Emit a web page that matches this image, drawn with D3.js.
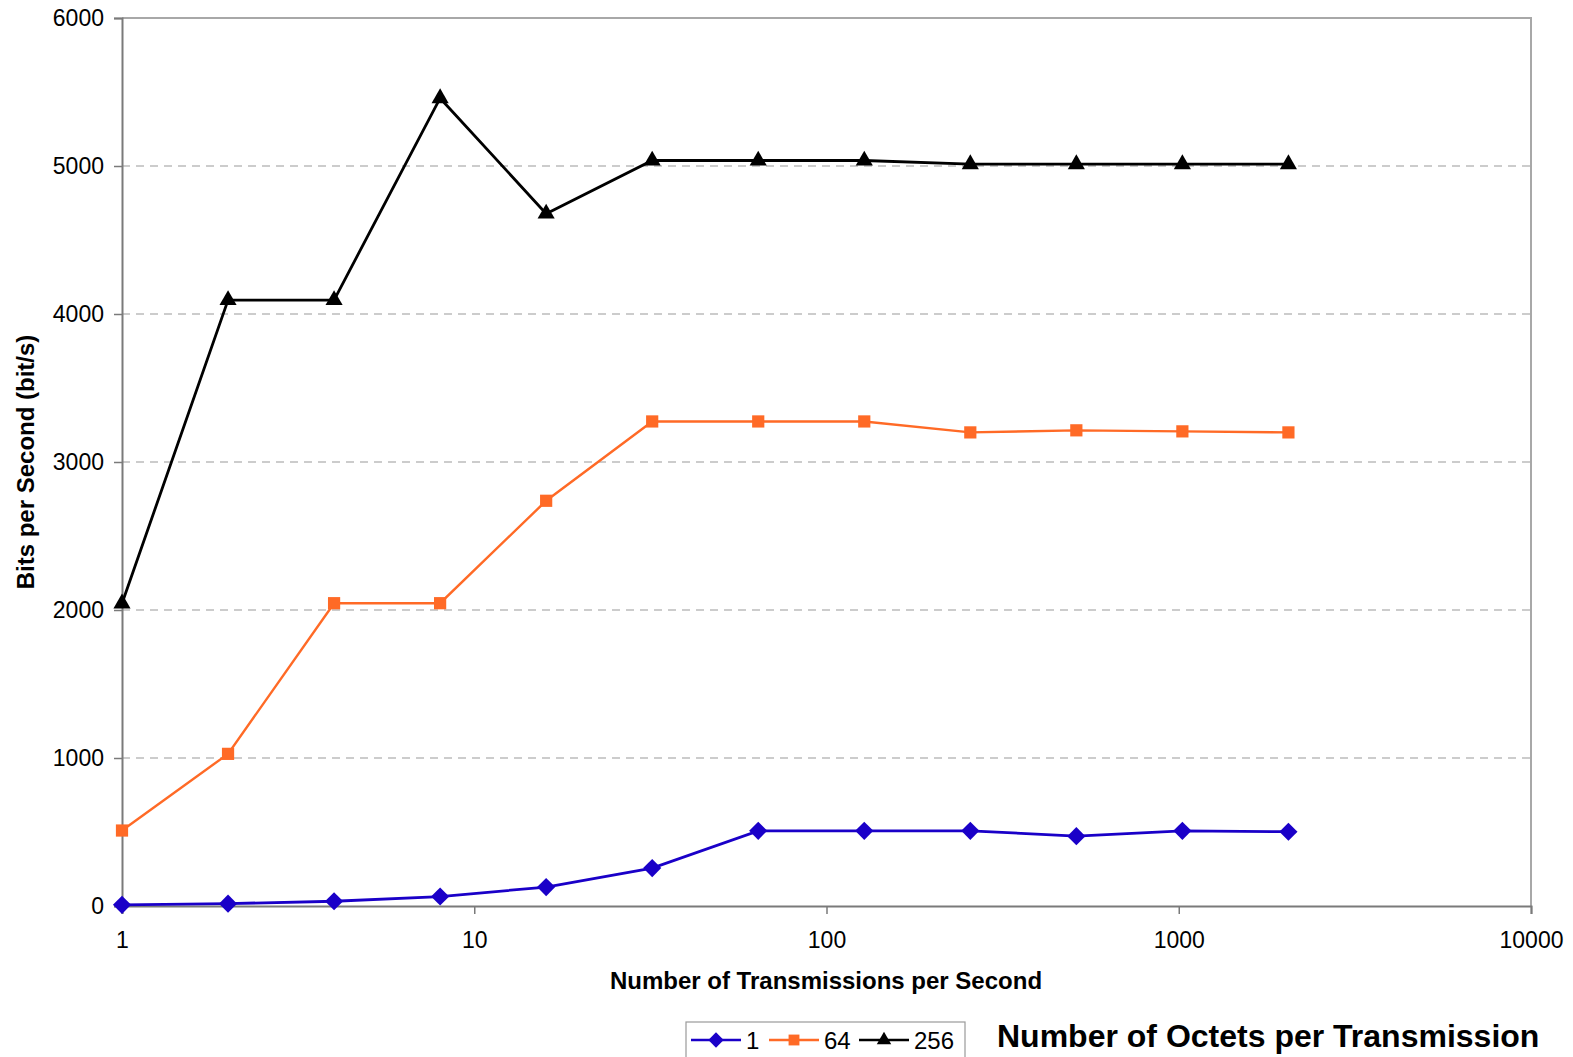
<!DOCTYPE html>
<html>
<head>
<meta charset="utf-8">
<script src="https://cdn.jsdelivr.net/npm/d3@7"></script>
<style>
  body { margin: 0; background: #fff; }
  text { font-family: "Liberation Sans", Arial, sans-serif; }
</style>
</head>
<body>
<div id="chart"></div>
<script>
const WIDTH = 1573;
const HEIGHT = 1057;

const MARGIN = { left: 122, right: 42, top: 18, bottom: 151 };

// transmissions per second (x)
const RATES = [1, 2, 4, 8, 16, 32, 64, 128, 256, 512, 1024, 2048];
// bits per second for each octet size
const SERIES_1 = [8, 16, 32, 64, 128, 256, 508, 508, 508, 472, 508, 502];
const SERIES_64 = [510, 1028, 2046, 2046, 2738, 3274, 3274, 3274, 3200, 3214, 3207, 3200];
const SERIES_256 = [2044, 4094, 4094, 5458, 4678, 5037, 5037, 5037, 5012, 5012, 5012, 5012];

const SERIES_NAMES = ['1', '64', '256'];
const X_TICKS = [1, 10, 100, 1000, 10000];
const Y_TICKS = [0, 1000, 2000, 3000, 4000, 5000, 6000];

const COLORS = ['#1a00c8', '#ff6a26', '#000000'];
const SHAPES = [d3.symbolDiamond2, d3.symbolSquare2, d3.symbolTriangle2];

const x = d3.scaleLog().domain([1, 10000]).range([MARGIN.left, WIDTH - MARGIN.right]);
const y = d3.scaleLinear().domain([0, 6000]).range([HEIGHT - MARGIN.bottom, MARGIN.top]);

const svg = d3.select('#chart').append('svg')
  .attr('width', WIDTH).attr('height', HEIGHT);

// grid lines
svg.append('g').selectAll('line')
  .data(Y_TICKS.filter(t => t > 0 && t < 6000))
  .enter().append('line')
  .attr('x1', x(1)).attr('x2', x(10000))
  .attr('y1', d => y(d)).attr('y2', d => y(d))
  .attr('stroke', '#9a9a9a').attr('stroke-width', 1.2)
  .attr('stroke-dasharray', '8,6');

// top and right frame
svg.append('path')
  .attr('d', `M${x(1)},${y(6000)}H${x(10000)}V${y(0)}`)
  .attr('fill', 'none').attr('stroke', '#a8a8a8').attr('stroke-width', 2);

// axes
const xAxis = svg.append('g')
  .attr('transform', `translate(0,${y(0)})`)
  .call(d3.axisBottom(x).tickValues(X_TICKS).tickFormat(d3.format('d')).tickSize(8).tickPadding(18));
const yAxis = svg.append('g')
  .attr('transform', `translate(${x(1)},0)`)
  .call(d3.axisLeft(y).tickValues(Y_TICKS).tickFormat(d3.format('d')).tickSize(8).tickPadding(10));

[xAxis, yAxis].forEach(ax => {
  ax.select('.domain').attr('stroke', '#7a7a7a').attr('stroke-width', 2);
  ax.selectAll('.tick line').attr('stroke', '#7a7a7a').attr('stroke-width', 1.5);
  ax.selectAll('.tick text').attr('font-size', 23).attr('fill', '#000');
});

// series
const allSeries = [SERIES_1, SERIES_64, SERIES_256];
const line = d3.line().x((d, i) => x(RATES[i])).y(d => y(d));

allSeries.forEach((vals, k) => {
  svg.append('path')
    .datum(vals)
    .attr('d', line)
    .attr('fill', 'none')
    .attr('stroke', COLORS[k])
    .attr('stroke-width', k === 1 ? 2.4 : 2.8);
  svg.append('g').selectAll('path')
    .data(vals)
    .enter().append('path')
    .attr('transform', (d, i) => `translate(${x(RATES[i])},${y(d)})`)
    .attr('d', d3.symbol().type(SHAPES[k]).size(k === 1 ? 190 : 210))
    .attr('fill', COLORS[k]);
});

// axis titles
svg.append('text')
  .attr('x', 826).attr('y', 989)
  .attr('text-anchor', 'middle')
  .attr('font-size', 24).attr('font-weight', 'bold')
  .text('Number of Transmissions per Second');

svg.append('text')
  .attr('transform', `translate(34,${(y(0) + y(6000)) / 2}) rotate(-90)`)
  .attr('text-anchor', 'middle')
  .attr('font-size', 24).attr('font-weight', 'bold')
  .text('Bits per Second (bit/s)');

// legend
const legend = svg.append('g').attr('transform', 'translate(686,1022)');
legend.append('rect')
  .attr('width', 279).attr('height', 50)
  .attr('fill', '#fff').attr('stroke', '#9a9a9a').attr('stroke-width', 1.2);

const LEGEND_X = [5, 83, 173];
SERIES_NAMES.forEach((name, k) => {
  const g = legend.append('g').attr('transform', `translate(${LEGEND_X[k]},18)`);
  g.append('line').attr('x1', 0).attr('x2', 50)
    .attr('stroke', COLORS[k]).attr('stroke-width', 2.6);
  g.append('path').attr('transform', 'translate(25,0)')
    .attr('d', d3.symbol().type(SHAPES[k]).size(150))
    .attr('fill', COLORS[k]);
  g.append('text').attr('x', 55).attr('y', 9)
    .attr('font-size', 24).text(name);
});

svg.append('text')
  .attr('x', 997).attr('y', 1047)
  .attr('font-size', 32).attr('font-weight', 'bold')
  .text('Number of Octets per Transmission');
</script>
</body>
</html>
